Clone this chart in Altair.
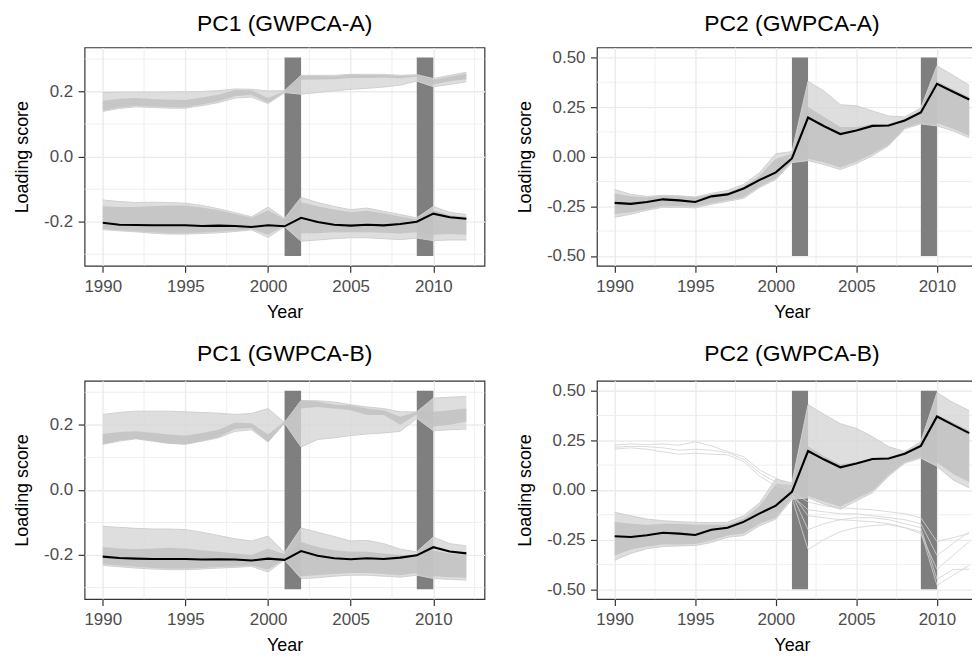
import altair as alt
import pandas as pd

years = list(range(1990, 2013))

# ---------- PC1 (GWPCA-A) ----------
a1_black = [-0.203,-0.209,-0.210,-0.211,-0.211,-0.211,-0.213,-0.212,-0.213,-0.216,-0.211,-0.214,-0.188,-0.201,-0.209,-0.212,-0.209,-0.211,-0.207,-0.200,-0.175,-0.186,-0.191]
a1_up_outer_hi = [0.197,0.198,0.198,0.198,0.199,0.199,0.200,0.203,0.208,0.207,0.202,0.203,0.250,0.250,0.250,0.253,0.253,0.253,0.250,0.252,0.240,0.250,0.259]
a1_up_outer_lo = [0.139,0.148,0.153,0.151,0.149,0.149,0.157,0.166,0.180,0.183,0.163,0.197,0.192,0.197,0.202,0.207,0.210,0.214,0.220,0.232,0.215,0.222,0.230]
a1_up_inner_hi = [0.172,0.178,0.180,0.177,0.175,0.174,0.182,0.190,0.205,0.204,0.180,0.201,0.249,0.248,0.247,0.252,0.251,0.251,0.248,0.250,0.236,0.246,0.255]
a1_up_inner_lo = [0.141,0.151,0.156,0.154,0.152,0.151,0.160,0.170,0.186,0.190,0.165,0.199,0.236,0.237,0.238,0.242,0.242,0.243,0.241,0.246,0.222,0.232,0.238]
a1_lo_outer_hi = [-0.133,-0.138,-0.141,-0.140,-0.141,-0.143,-0.150,-0.160,-0.172,-0.185,-0.155,-0.190,-0.125,-0.141,-0.153,-0.163,-0.158,-0.168,-0.178,-0.188,-0.153,-0.171,-0.178]
a1_lo_outer_lo = [-0.224,-0.228,-0.231,-0.235,-0.238,-0.238,-0.236,-0.234,-0.230,-0.225,-0.248,-0.215,-0.260,-0.256,-0.252,-0.249,-0.249,-0.252,-0.255,-0.250,-0.258,-0.256,-0.256]
a1_lo_inner_hi = [-0.152,-0.155,-0.155,-0.152,-0.150,-0.150,-0.156,-0.165,-0.176,-0.188,-0.165,-0.192,-0.140,-0.152,-0.162,-0.170,-0.166,-0.174,-0.184,-0.192,-0.165,-0.180,-0.185]
a1_lo_inner_lo = [-0.222,-0.226,-0.229,-0.232,-0.235,-0.235,-0.233,-0.231,-0.228,-0.223,-0.240,-0.212,-0.235,-0.235,-0.232,-0.232,-0.232,-0.234,-0.236,-0.232,-0.240,-0.238,-0.240]

# ---------- PC2 (GWPCA-A) ----------
a2_black = [-0.233,-0.238,-0.228,-0.215,-0.220,-0.228,-0.200,-0.190,-0.160,-0.117,-0.079,-0.009,0.197,0.153,0.114,0.132,0.155,0.157,0.182,0.223,0.367,0.327,0.288]
a2_outer_hi = [-0.165,-0.190,-0.200,-0.195,-0.197,-0.203,-0.185,-0.170,-0.140,-0.080,0.015,0.025,0.380,0.330,0.262,0.256,0.230,0.205,0.200,0.245,0.458,0.410,0.360]
a2_outer_lo = [-0.305,-0.290,-0.270,-0.255,-0.255,-0.258,-0.240,-0.225,-0.210,-0.155,-0.115,-0.030,-0.020,-0.040,-0.065,-0.035,0.005,0.055,0.140,0.165,0.155,0.130,0.095]
a2_inner_hi = [-0.185,-0.200,-0.205,-0.200,-0.200,-0.205,-0.190,-0.180,-0.150,-0.095,-0.010,0.015,0.250,0.200,0.150,0.150,0.165,0.165,0.190,0.235,0.380,0.340,0.300]
a2_inner_lo = [-0.290,-0.280,-0.265,-0.250,-0.250,-0.252,-0.235,-0.220,-0.205,-0.150,-0.110,-0.025,-0.010,-0.030,-0.055,-0.025,0.015,0.060,0.145,0.170,0.170,0.140,0.105]

# ---------- PC1 (GWPCA-B) ----------
b1_black = [-0.205,-0.209,-0.211,-0.212,-0.212,-0.212,-0.214,-0.213,-0.214,-0.217,-0.211,-0.215,-0.188,-0.202,-0.210,-0.213,-0.210,-0.212,-0.208,-0.201,-0.176,-0.189,-0.195]
b1_up_outer_hi = [0.232,0.238,0.242,0.242,0.242,0.240,0.238,0.236,0.232,0.235,0.250,0.207,0.275,0.274,0.270,0.262,0.255,0.250,0.240,0.240,0.282,0.285,0.287]
b1_up_outer_lo = [0.140,0.150,0.157,0.150,0.143,0.140,0.150,0.160,0.180,0.185,0.147,0.205,0.132,0.155,0.160,0.167,0.172,0.175,0.180,0.220,0.182,0.185,0.187]
b1_up_inner_hi = [0.172,0.178,0.180,0.176,0.170,0.167,0.175,0.185,0.207,0.205,0.170,0.210,0.275,0.272,0.262,0.260,0.250,0.245,0.225,0.240,0.240,0.245,0.250]
b1_up_inner_lo = [0.140,0.152,0.157,0.150,0.143,0.140,0.150,0.162,0.187,0.190,0.147,0.205,0.250,0.255,0.250,0.245,0.230,0.230,0.200,0.232,0.195,0.200,0.210]
b1_lo_outer_hi = [-0.112,-0.115,-0.118,-0.120,-0.120,-0.122,-0.130,-0.140,-0.150,-0.157,-0.142,-0.192,-0.117,-0.130,-0.143,-0.157,-0.155,-0.165,-0.182,-0.190,-0.145,-0.165,-0.172]
b1_lo_outer_lo = [-0.232,-0.236,-0.240,-0.243,-0.245,-0.245,-0.243,-0.240,-0.238,-0.235,-0.252,-0.215,-0.272,-0.270,-0.265,-0.262,-0.262,-0.265,-0.268,-0.262,-0.272,-0.275,-0.277]
b1_lo_inner_hi = [-0.175,-0.180,-0.182,-0.180,-0.178,-0.180,-0.185,-0.190,-0.195,-0.200,-0.180,-0.198,-0.160,-0.175,-0.185,-0.190,-0.190,-0.195,-0.200,-0.200,-0.185,-0.195,-0.200]
b1_lo_inner_lo = [-0.228,-0.232,-0.236,-0.240,-0.242,-0.242,-0.240,-0.237,-0.235,-0.232,-0.245,-0.212,-0.265,-0.262,-0.258,-0.255,-0.255,-0.258,-0.262,-0.255,-0.265,-0.268,-0.270]

# ---------- PC2 (GWPCA-B) ----------
b2_black = [-0.233,-0.237,-0.228,-0.216,-0.220,-0.227,-0.201,-0.191,-0.161,-0.118,-0.079,-0.010,0.196,0.153,0.114,0.133,0.156,0.158,0.182,0.222,0.370,0.328,0.286]
b2_outer_hi = [-0.113,-0.130,-0.147,-0.155,-0.160,-0.163,-0.165,-0.163,-0.130,-0.064,0.055,0.035,0.430,0.380,0.334,0.310,0.268,0.218,0.193,0.243,0.490,0.440,0.400]
b2_outer_lo = [-0.354,-0.320,-0.296,-0.285,-0.282,-0.280,-0.265,-0.238,-0.230,-0.180,-0.147,-0.047,-0.040,-0.072,-0.097,-0.055,-0.014,0.069,0.135,0.160,0.119,0.050,0.010]
b2_inner_hi = [-0.160,-0.170,-0.175,-0.170,-0.170,-0.175,-0.175,-0.175,-0.145,-0.080,0.030,0.025,0.220,0.170,0.130,0.140,0.160,0.165,0.190,0.235,0.380,0.340,0.300]
b2_inner_lo = [-0.330,-0.300,-0.285,-0.275,-0.275,-0.272,-0.255,-0.230,-0.220,-0.170,-0.140,-0.040,-0.030,-0.060,-0.085,-0.045,-0.005,0.075,0.140,0.165,0.140,0.080,0.040]
# early outlier lines (1990-2001)
b2_early_years = list(range(1990, 2002))
b2_early_1 = [0.206,0.212,0.205,0.192,0.180,0.185,0.180,0.177,0.143,0.069,0.020,0.000]
b2_early_2 = [0.226,0.232,0.228,0.232,0.225,0.243,0.222,0.193,0.168,0.100,0.060,0.010]
b2_early_3 = [0.215,0.220,0.218,0.212,0.200,0.205,0.200,0.188,0.155,0.085,0.040,0.005]
# late outlier lines (2001-2012)
b2_late_years = list(range(2001, 2013))
b2_late_1 = [-0.03,-0.10,-0.11,-0.12,-0.12,-0.13,-0.14,-0.15,-0.17,-0.33,-0.27,-0.21]
b2_late_2 = [-0.04,-0.30,-0.25,-0.21,-0.19,-0.18,-0.175,-0.19,-0.21,-0.48,-0.43,-0.38]
b2_late_3 = [-0.02,-0.13,-0.14,-0.15,-0.155,-0.16,-0.17,-0.19,-0.22,-0.40,-0.33,-0.26]
b2_late_4 = [-0.01,-0.06,-0.08,-0.09,-0.095,-0.10,-0.11,-0.12,-0.14,-0.26,-0.24,-0.22]
b2_late_5 = [-0.02,-0.20,-0.17,-0.15,-0.14,-0.14,-0.15,-0.17,-0.19,-0.45,-0.40,-0.40]

# shaded periods
bar_start = [2001, 2009]
bar_end = [2002, 2010]
pc1_bar_half = 0.305
pc2_bar_half = 0.5

x_major = [1990, 1995, 2000, 2005, 2010]
x_minor = [1992.5, 1997.5, 2002.5, 2007.5, 2012.5]
pc1_major = [-0.2, 0.0, 0.2]
pc1_minor = [-0.3, -0.1, 0.1, 0.3]
pc2_major = [-0.5, -0.25, 0.0, 0.25, 0.5]
pc2_minor = [-0.375, -0.125, 0.125, 0.375]

FONT = "Liberation Sans"
GRID = "#ebebeb"
H = 219.5


def bands_df(bands):
    rows = []
    for i, (lo, hi) in enumerate(bands):
        for y, l, h in zip(years, lo, hi):
            rows.append({"year": y, "lo": l, "hi": h, "band": i})
    return pd.DataFrame(rows)


def lines_df(lines):
    rows = []
    for i, (ys, vals) in enumerate(lines):
        for y, v in zip(ys, vals):
            rows.append({"year": y, "value": v, "line": i})
    return pd.DataFrame(rows)


def edges_df(bands):
    rows = []
    k = 0
    for lo, hi in bands:
        for arr in (lo, hi):
            for y, v in zip(years, arr):
                rows.append({"year": y, "value": v, "line": k})
            k += 1
    return pd.DataFrame(rows)


def panel(title, title_dy, black, outer, inner, extra, bar_half, major, minor, fmt, dom, width):
    xs = alt.Scale(domain=[1988.9, 2013.1], nice=False, zero=False)
    ys = alt.Scale(domain=dom, nice=False, zero=False)
    xaxis = alt.Axis(values=x_major, format="d", title="Year", grid=True)
    yaxis = alt.Axis(values=major, title="Loading score", grid=True,
                     labelExpr="replace(format(datum.value, '%s'), '\u2212', '-')" % fmt)
    X = lambda f: alt.X(f, type="quantitative", scale=xs, axis=xaxis)
    Y = lambda f: alt.Y(f, type="quantitative", scale=ys, axis=yaxis)

    mx = alt.Chart(pd.DataFrame({"year": x_minor})).mark_rule(color=GRID, strokeWidth=0.8).encode(
        x=X("year"), y=alt.value(0), y2=alt.value(H))
    my = alt.Chart(pd.DataFrame({"value": minor})).mark_rule(color=GRID, strokeWidth=0.8).encode(
        y=Y("value"), x=alt.value(0), x2=alt.value(width))
    bars = alt.Chart(pd.DataFrame({"year": bar_start, "year_end": bar_end,
                                   "lo": [-bar_half] * 2, "hi": [bar_half] * 2})).mark_rect(
        color="#7f7f7f").encode(x=X("year"), x2="year_end", y=Y("lo"), y2="hi")
    o = alt.Chart(bands_df(outer)).mark_area(color="#d6d6d6", opacity=0.8).encode(
        x=X("year"), y=Y("lo"), y2="hi", detail="band:N")
    oe = alt.Chart(edges_df(outer)).mark_line(color="#d0d0d0", strokeWidth=1).encode(
        x=X("year"), y=Y("value"), detail="line:N")
    n = alt.Chart(bands_df(inner)).mark_area(color="#c2c2c2", opacity=0.85).encode(
        x=X("year"), y=Y("lo"), y2="hi", detail="band:N")
    layers = [mx, my, bars, o, oe, n]
    if extra:
        e = alt.Chart(lines_df(extra)).mark_line(color="#d2d2d2", strokeWidth=0.9, opacity=0.9).encode(
            x=X("year"), y=Y("value"), detail="line:N")
        layers.append(e)
    b = alt.Chart(pd.DataFrame({"year": years, "value": black})).mark_line(
        color="black", strokeWidth=2.1).encode(x=X("year"), y=Y("value"))
    layers.append(b)
    t = alt.Chart(pd.DataFrame({"label": [title]})).mark_text(
        font=FONT, fontSize=23, color="black", align="center", baseline="alphabetic").encode(
        text="label:N", x=alt.value(width / 2), y=alt.value(-title_dy))
    layers.append(t)
    return alt.layer(*layers).properties(width=width, height=H)


p1 = panel("PC1 (GWPCA-A)", 17, a1_black,
           [(a1_up_outer_lo, a1_up_outer_hi), (a1_lo_outer_lo, a1_lo_outer_hi)],
           [(a1_up_inner_lo, a1_up_inner_hi), (a1_lo_inner_lo, a1_lo_inner_hi)],
           None, pc1_bar_half, pc1_major, pc1_minor, ".1f", [-0.3355, 0.3355], 402)
p2 = panel("PC2 (GWPCA-A)", 17, a2_black,
           [(a2_outer_lo, a2_outer_hi)], [(a2_inner_lo, a2_inner_hi)],
           None, pc2_bar_half, pc2_major, pc2_minor, ".2f", [-0.55, 0.55], 392)
p3 = panel("PC1 (GWPCA-B)", 20, b1_black,
           [(b1_up_outer_lo, b1_up_outer_hi), (b1_lo_outer_lo, b1_lo_outer_hi)],
           [(b1_up_inner_lo, b1_up_inner_hi), (b1_lo_inner_lo, b1_lo_inner_hi)],
           None, pc1_bar_half, pc1_major, pc1_minor, ".1f", [-0.3355, 0.3355], 402)
p4 = panel("PC2 (GWPCA-B)", 20, b2_black,
           [(b2_outer_lo, b2_outer_hi)], [(b2_inner_lo, b2_inner_hi)],
           [(b2_early_years, b2_early_1), (b2_early_years, b2_early_2), (b2_early_years, b2_early_3),
            (b2_late_years, b2_late_1), (b2_late_years, b2_late_2), (b2_late_years, b2_late_3),
            (b2_late_years, b2_late_4), (b2_late_years, b2_late_5)],
           pc2_bar_half, pc2_major, pc2_minor, ".2f", [-0.55, 0.55], 392)

chart = alt.vconcat(
    alt.hconcat(p1, p2, spacing=30),
    alt.hconcat(p3, p4, spacing=30),
    spacing=20,
).properties(
    padding={"left": 5, "top": 2, "right": -16, "bottom": 0},
    background="white",
).configure_view(
    stroke="#333333", strokeWidth=1.2
).configure_axis(
    labelFont=FONT, labelFontSize=17, labelColor="#4d4d4d",
    titleFont=FONT, titleFontSize=18, titleColor="black", titleFontWeight="normal",
    tickColor="#333333", tickSize=6.5, tickWidth=1.2, domain=False,
    gridColor=GRID, gridWidth=1.4,
).configure_axisX(
    labelPadding=6, titlePadding=9,
).configure_axisY(
    labelPadding=5.5, titlePadding=12,
)

chart.save("out.html", embed_options={"renderer": "svg", "actions": False})
